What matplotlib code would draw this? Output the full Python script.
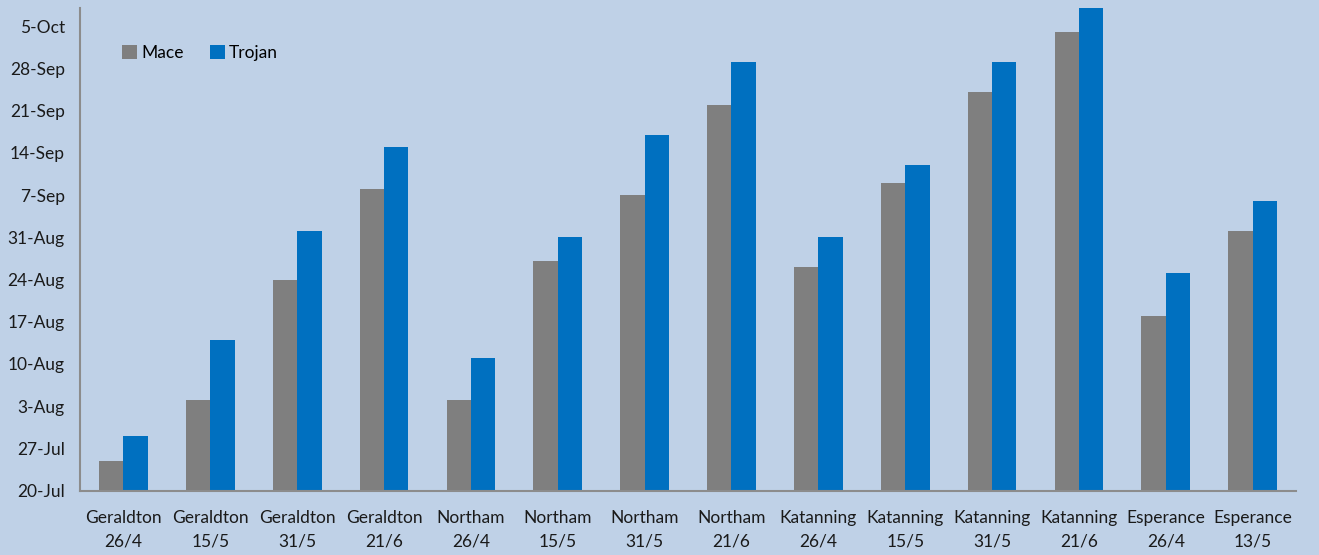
"""Flowering date of Mace and Trojan wheat by site and sowing date."""

import numpy as np
import matplotlib
matplotlib.use("Agg")
import matplotlib.pyplot as plt
import matplotlib.dates as mdates

sites = ["Geraldton", "Geraldton", "Geraldton", "Geraldton",
         "Northam", "Northam", "Northam", "Northam",
         "Katanning", "Katanning", "Katanning", "Katanning",
         "Esperance", "Esperance"]
sowing = ["26/4", "15/5", "31/5", "21/6",
          "26/4", "15/5", "31/5", "21/6",
          "26/4", "15/5", "31/5", "21/6",
          "26/4", "13/5"]

mace = ["2013-07-25", "2013-08-04", "2013-08-24", "2013-09-08",
        "2013-08-04", "2013-08-27", "2013-09-07", "2013-09-22",
        "2013-08-26", "2013-09-09", "2013-09-24", "2013-10-04",
        "2013-08-18", "2013-09-01"]
trojan = ["2013-07-29", "2013-08-14", "2013-09-01", "2013-09-15",
          "2013-08-11", "2013-08-31", "2013-09-17", "2013-09-29",
          "2013-08-31", "2013-09-12", "2013-09-29", "2013-10-08",
          "2013-08-25", "2013-09-06"]

y_ticks = ["2013-07-20", "2013-07-27", "2013-08-03", "2013-08-10",
           "2013-08-17", "2013-08-24", "2013-08-31", "2013-09-07",
           "2013-09-14", "2013-09-21", "2013-09-28", "2013-10-05"]

plt.rcParams["font.family"] = ["Lato", "DejaVu Sans"]

base = mdates.datestr2num("2013-07-20")
mace_num = mdates.datestr2num(mace)
trojan_num = mdates.datestr2num(trojan)
tick_num = mdates.datestr2num(y_ticks)

bg = "#bfd1e7"
fig = plt.figure(figsize=(13.19, 5.55), dpi=100, facecolor=bg)
ax = fig.add_axes([0.0607, 0.1159, 0.9219, 0.8697])
ax.set_facecolor(bg)

x = np.arange(len(sites))
width = 0.28
ax.bar(x - width / 2, mace_num - base, width, bottom=base,
       color="#7f7f7f", label="Mace")
ax.bar(x + width / 2, trojan_num - base, width, bottom=base,
       color="#0070c0", label="Trojan")

ax.set_xlim(-0.5, len(sites) - 0.5)
ax.set_ylim(base, base + 80.0)
ax.set_yticks(tick_num)
ax.yaxis.set_major_formatter(mdates.DateFormatter("%-d-%b"))
ax.set_xticks(x)
ax.set_xticklabels([f"{s}\n{d}" for s, d in zip(sites, sowing)],
                   linespacing=1.55)

ax.tick_params(axis="both", length=0, labelsize=12.5, colors="#1a1a1a")
ax.tick_params(axis="y", pad=11)
ax.tick_params(axis="x", pad=14)

for side in ["top", "right"]:
    ax.spines[side].set_visible(False)
for side in ["left", "bottom"]:
    ax.spines[side].set_color("#8c8c8c")
    ax.spines[side].set_linewidth(1.5)

ax.legend(loc="upper left", bbox_to_anchor=(0.022, 0.955), ncol=2,
          frameon=False, fontsize=12.5, handlelength=0.85, handleheight=0.85,
          handletextpad=0.25, columnspacing=1.5)

fig.savefig("out.png", dpi=100, facecolor=bg)
